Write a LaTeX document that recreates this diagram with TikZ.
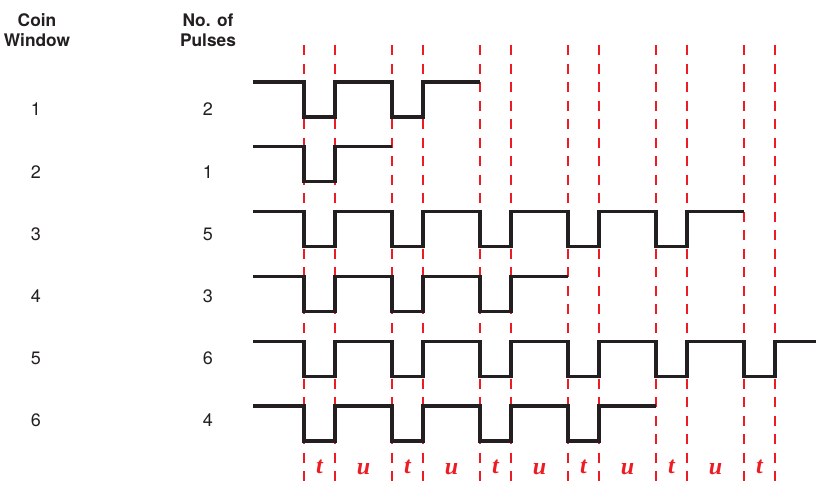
\documentclass[tikz,border=0pt]{standalone}
\usepackage{fontspec}
\setmainfont{TeX Gyre Heros}
\newfontfamily\tufont{Liberation Serif}
\definecolor{pulsered}{RGB}{237,28,36}
\definecolor{wave}{RGB}{35,31,32}
\begin{document}
\begin{tikzpicture}[x=0.75pt,y=-0.75pt,
  header/.style={font=\bfseries\fontsize{13}{15}\selectfont, align=center, inner sep=0pt, text=wave},
  numlabel/.style={font=\fontsize{13.5}{15}\selectfont, inner sep=0pt, text=wave},
  tulabel/.style={font=\tufont\bfseries\itshape\fontsize{18}{20}\selectfont, text=pulsered, inner sep=0pt},
  guide/.style={draw=pulsered, line width=1.5pt, dash pattern=on 7.5pt off 6.4pt},
  signal/.style={draw=wave, line width=2.3pt, line join=miter}]
\useasboundingbox (0,0) rectangle (816,483);
% guide lines
\foreach \k in {0,...,5} {
  \coordinate (ga\k) at ({304+88*\k},45);
  \coordinate (gb\k) at ({335+88*\k},45);
  \draw[guide] (ga\k) -- ++(0,440);
  \draw[guide] (gb\k) -- ++(0,440);
}
% headers
\node[header] (hcoin) at (37,30) {Coin\\Window};
\node[header] (hpulse) at (208,30) {No. of\\Pulses};
% rows: index / pulses
\foreach \r/\n in {1/2,2/1,3/5,4/3,5/6,6/4} {
  \pgfmathsetmacro{\h}{82+64.8*(\r-1)}
  \pgfmathsetmacro{\ly}{109.5+62.2*(\r-1)}
  \node[numlabel] (cw\r) at (36,\ly) {\r};
  \node[numlabel] (np\r) at (208,\ly) {\n};
  \pgfmathsetmacro{\endx}{min(816,304+88*\n)}
  \draw[signal] (253,\h)
    \foreach \p in {1,...,\n} {
      -- ({304+88*(\p-1)},\h) -- ({304+88*(\p-1)},\h+35)
      -- ({335+88*(\p-1)},\h+35) -- ({335+88*(\p-1)},\h)
    } -- (\endx,\h);
}
% t / u labels
\foreach \k in {0,...,5} {
  \node[tulabel] (t\k) at ({319.5+88*\k},467) {t};
}
\foreach \k in {0,...,4} {
  \node[tulabel] (u\k) at ({363.5+88*\k},469) {u};
}
\end{tikzpicture}
\end{document}
